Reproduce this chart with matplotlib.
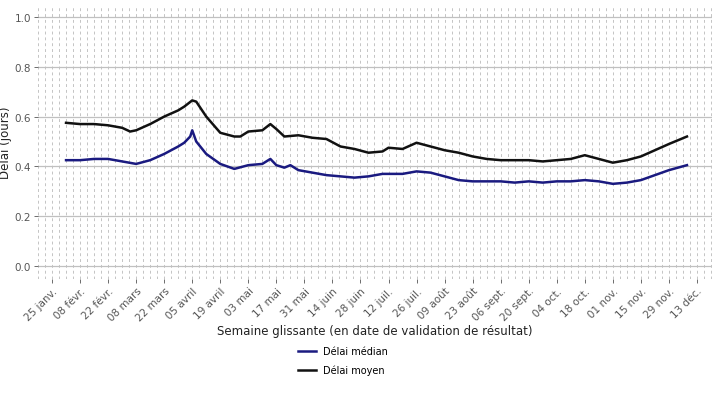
import matplotlib
matplotlib.use("Agg")
import matplotlib.pyplot as plt
import matplotlib.dates as mdates
import numpy as np
import datetime as dt

mean_dates = ["2021-02-01","2021-02-08","2021-02-15","2021-02-22","2021-03-01","2021-03-05","2021-03-08","2021-03-15","2021-03-22","2021-03-29","2021-04-01","2021-04-05","2021-04-07","2021-04-12","2021-04-19","2021-04-26","2021-04-29","2021-05-03","2021-05-10","2021-05-14","2021-05-17","2021-05-21","2021-05-28","2021-06-04","2021-06-11","2021-06-18","2021-06-25","2021-07-02","2021-07-09","2021-07-12","2021-07-19","2021-07-26","2021-08-02","2021-08-09","2021-08-16","2021-08-23","2021-08-30","2021-09-06","2021-09-13","2021-09-20","2021-09-27","2021-10-04","2021-10-11","2021-10-18","2021-10-25","2021-11-01","2021-11-08","2021-11-15","2021-11-22","2021-11-29","2021-12-08"]
mean_vals = [.575,.57,.57,.565,.555,.54,.545,.57,.6,.625,.64,.665,.66,.6,.535,.52,.52,.54,.545,.57,.55,.52,.525,.515,.51,.48,.47,.455,.46,.475,.47,.495,.48,.465,.455,.44,.43,.425,.425,.425,.42,.425,.43,.445,.43,.415,.425,.44,.465,.49,.52]

med_dates = ["2021-02-01","2021-02-08","2021-02-15","2021-02-22","2021-03-01","2021-03-08","2021-03-15","2021-03-22","2021-03-29","2021-04-01","2021-04-04","2021-04-05","2021-04-07","2021-04-12","2021-04-19","2021-04-26","2021-05-03","2021-05-10","2021-05-14","2021-05-17","2021-05-21","2021-05-24","2021-05-28","2021-06-04","2021-06-11","2021-06-18","2021-06-25","2021-07-02","2021-07-09","2021-07-19","2021-07-26","2021-08-02","2021-08-09","2021-08-16","2021-08-23","2021-08-30","2021-09-06","2021-09-13","2021-09-20","2021-09-27","2021-10-04","2021-10-11","2021-10-18","2021-10-25","2021-11-01","2021-11-08","2021-11-15","2021-11-22","2021-11-29","2021-12-08"]
med_vals = [.425,.425,.43,.43,.42,.41,.425,.45,.48,.495,.52,.545,.5,.45,.41,.39,.405,.41,.43,.405,.395,.405,.385,.375,.365,.36,.355,.36,.37,.37,.38,.375,.36,.345,.34,.34,.34,.335,.34,.335,.34,.34,.345,.34,.33,.335,.345,.365,.385,.405]

tick_labels = ["25 janv.","08 févr.","22 févr.","08 mars","22 mars","05 avril","19 avril","03 mai","17 mai","31 mai","14 juin","28 juin","12 juil.","26 juil.","09 août","23 août","06 sept.","20 sept.","04 oct.","18 oct.","01 nov.","15 nov.","29 nov.","13 déc."]

def d(s): return dt.datetime.strptime(s, "%Y-%m-%d")

fig = plt.figure(figsize=(7.15, 4.02), dpi=100)
ax = fig.add_axes([38/715, 1-279.5/402, (712-38)/715, 274/402])
ax.set_facecolor("white")
start = dt.datetime(2021, 1, 25)
ticks = [start + dt.timedelta(days=14*i) for i in range(len(tick_labels))]
x0 = dt.datetime(2021, 1, 18); x1 = dt.datetime(2021, 12, 20, 12)
t = x0
while t <= x1:
    ax.axvline(t, color="#c4c4c4", lw=0.7, ls=(0, (3, 3)), zorder=0)
    t += dt.timedelta(days=3.5)
for y in [0, .2, .4, .6, .8, 1.0]:
    ax.axhline(y, color="#c0c0c0", lw=0.9, zorder=0.5)
ax.plot([d(s) for s in med_dates], med_vals, color="#1a1a80", lw=1.8, label="Délai médian")
ax.plot([d(s) for s in mean_dates], mean_vals, color="#111111", lw=1.8, label="Délai moyen")
ax.set_xlim(x0, x1)
ax.set_ylim(-0.05, 1.05)
ax.set_yticks([0, .2, .4, .6, .8, 1.0])
ax.set_yticklabels(["0.0", "0.2", "0.4", "0.6", "0.8", "1.0"])
ax.set_xticks(ticks)
ax.set_xticklabels(tick_labels, rotation=45, ha="right", rotation_mode="anchor")
ax.tick_params(axis="both", colors="#555555", labelsize=7.5, length=3, width=0.6, pad=2)
for sp in ax.spines.values():
    sp.set_visible(False)
ax.set_ylabel("Délai (jours)", fontsize=8.5, color="#222222", labelpad=2)
ax.set_xlabel("Semaine glissante (en date de validation de résultat)", fontsize=8.5, color="#222222", labelpad=1)
fig.legend(loc="center", bbox_to_anchor=(0.48, 0.10), frameon=False, fontsize=7, handlelength=1.8, labelspacing=0.9)
fig.savefig("out.png", dpi=100, facecolor="white")
